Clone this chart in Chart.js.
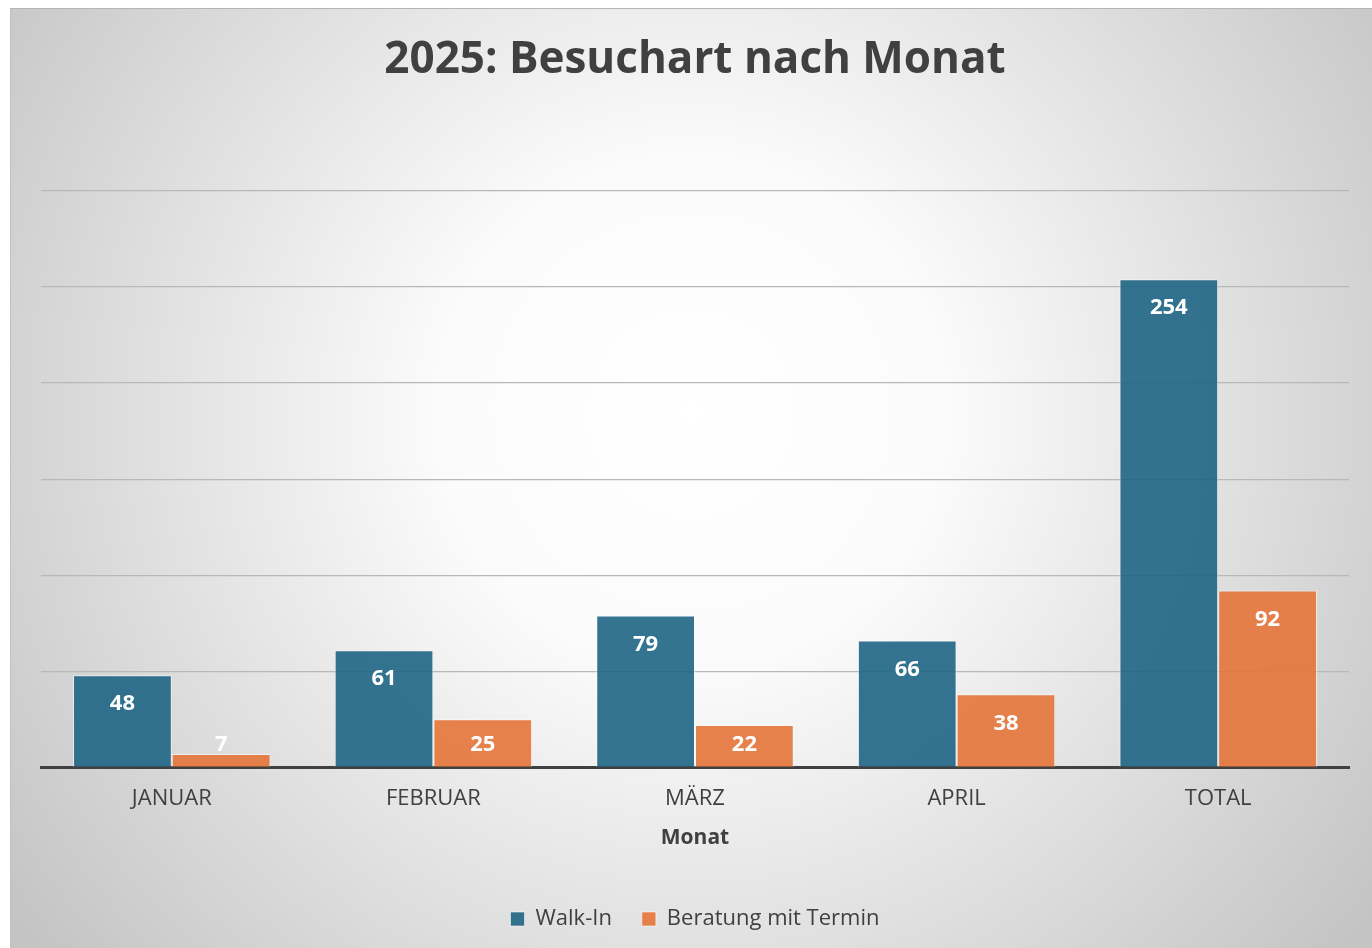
<!DOCTYPE html>
<html>
<head>
<meta charset="utf-8">
<script src="https://cdn.jsdelivr.net/npm/chart.js@4"></script>
<style>
  html, body { margin: 0; padding: 0; background: #ffffff; }
  #wrap {
    position: absolute; left: 10px; top: 8px;
    width: 1362px; height: 940px;
    border-top: 1px solid #b5b5b5; border-left: 1px solid #c0c0c0;
    box-sizing: border-box;
  }
</style>
</head>
<body>
<div id="wrap"><canvas id="chart"></canvas></div>
<script>
const categories = ["JANUAR", "FEBRUAR", "MÄRZ", "APRIL", "TOTAL"];
const walkIn = [48, 61, 79, 66, 254];
const beratung = [7, 25, 22, 38, 92];
const seriesNames = ["Walk-In", "Beratung mit Termin"];
const yTicks = [0, 50, 100, 150, 200, 250, 300];

const FONT = "'Open Sans', sans-serif";
const TEXT = "#404040";

// grey-to-white radial fill behind the whole chart
const bgPlugin = {
  id: "bgGradient",
  beforeDraw(chart) {
    const { ctx, width, height } = chart;
    const g = ctx.createRadialGradient(width * 0.5, height * 0.43, 0, width * 0.5, height * 0.43, width * 0.62);
    g.addColorStop(0, "#ffffff");
    g.addColorStop(0.3, "#fbfbfb");
    g.addColorStop(1, "#c4c4c4");
    ctx.save();
    ctx.fillStyle = g;
    ctx.fillRect(0, 0, width, height);
    ctx.restore();
  },
};

// value labels just inside the top of each bar
const labelPlugin = {
  id: "barLabels",
  afterDatasetsDraw(chart) {
    const { ctx } = chart;
    const base = chart.scales.y.getPixelForValue(0);
    ctx.save();
    ctx.fillStyle = "#ffffff";
    ctx.font = "bold 22px " + FONT;
    ctx.textAlign = "center";
    ctx.textBaseline = "middle";
    chart.data.datasets.forEach((ds, i) => {
      chart.getDatasetMeta(i).data.forEach((bar, j) => {
        const y = Math.min(bar.y + 29, base - 23);
        ctx.fillText(String(ds.data[j]), bar.x, y);
      });
    });
    ctx.restore();
  },
};

new Chart(document.getElementById("chart"), {
  type: "bar",
  data: {
    labels: categories,
    datasets: [
      {
        label: seriesNames[0],
        data: walkIn,
        backgroundColor: "rgba(30,101,133,0.9)",
        borderColor: "rgba(255,255,255,0.55)",
        borderWidth: 1,
      },
      {
        label: seriesNames[1],
        data: beratung,
        backgroundColor: "rgba(228,116,56,0.9)",
        borderColor: "rgba(255,255,255,0.55)",
        borderWidth: 1,
      },
    ],
  },
  options: {
    responsive: true,
    maintainAspectRatio: false,
    animation: false,
    layout: { padding: { left: 30, right: 23, bottom: 8, top: 0 } },
    datasets: {
      bar: { categoryPercentage: 0.755, barPercentage: 1 },
    },
    plugins: {
      title: {
        display: true,
        text: "2025: Besuchart nach Monat",
        color: TEXT,
        font: { family: FONT, size: 44, weight: "bold" },
        padding: { top: 25, bottom: 104 },
      },
      legend: {
        display: true,
        position: "bottom",
        labels: {
          color: TEXT,
          font: { family: FONT, size: 22 },
          boxWidth: 14,
          boxHeight: 14,
          padding: 30,
        },
      },
      tooltip: { enabled: false },
    },
    scales: {
      x: {
        grid: { display: false, drawTicks: false },
        border: { display: true, color: "#404040", width: 3 },
        ticks: { color: TEXT, font: { family: FONT, size: 22 }, padding: 18 },
        title: {
          display: true,
          text: "Monat",
          color: TEXT,
          font: { family: FONT, size: 21, weight: "bold" },
          padding: { top: -4, bottom: 27 },
        },
      },
      y: {
        min: 0,
        max: 300,
        afterBuildTicks(axis) {
          axis.ticks = yTicks.map((v) => ({ value: v }));
        },
        ticks: { display: false },
        grid: { color: "#b8b8b8", lineWidth: 1.2, drawTicks: false },
        border: { display: false },
      },
    },
  },
  plugins: [bgPlugin, labelPlugin],
});
</script>
</body>
</html>
